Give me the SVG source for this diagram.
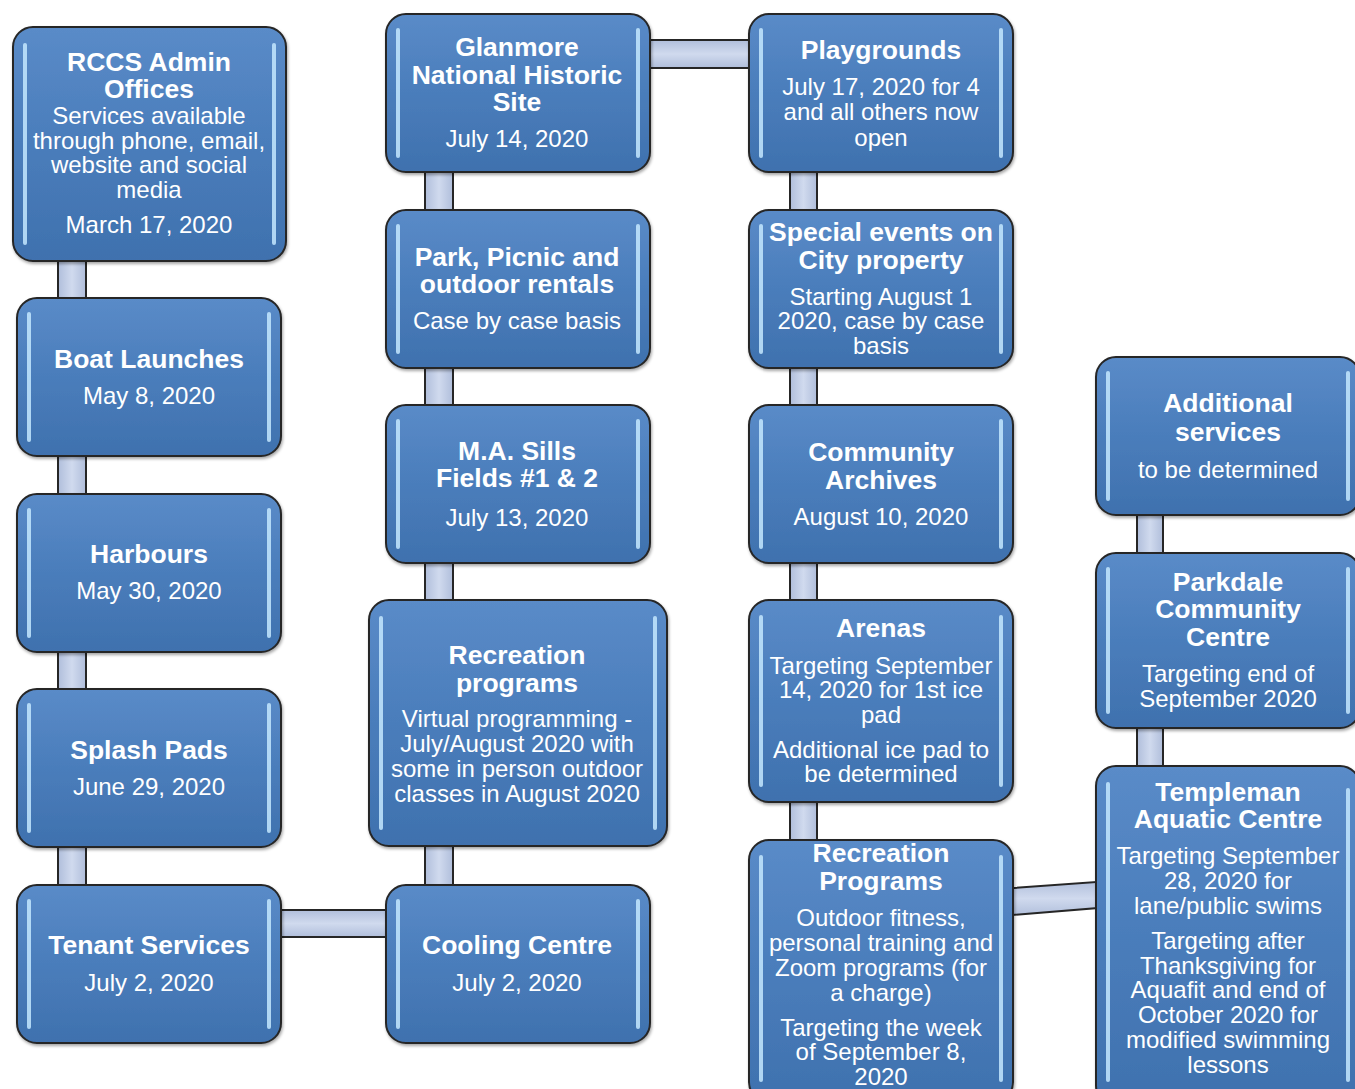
<svg xmlns="http://www.w3.org/2000/svg" width="1355" height="1089" viewBox="0 0 1355 1089">
<defs>
<linearGradient id="bg" x1="0" y1="0" x2="0" y2="1">
<stop offset="0" stop-color="#5a8bc8"/>
<stop offset="0.5" stop-color="#4a7dbb"/>
<stop offset="1" stop-color="#3f71ae"/>
</linearGradient>
<linearGradient id="cv" x1="0" y1="0" x2="1" y2="0">
<stop offset="0" stop-color="#b0bedb"/>
<stop offset="0.5" stop-color="#d0daee"/>
<stop offset="1" stop-color="#b0bedb"/>
</linearGradient>
<linearGradient id="ch" x1="0" y1="0" x2="0" y2="1">
<stop offset="0" stop-color="#b0bedb"/>
<stop offset="0.5" stop-color="#d0daee"/>
<stop offset="1" stop-color="#b0bedb"/>
</linearGradient>
<filter id="sh" x="-5%" y="-5%" width="110%" height="110%">
<feDropShadow dx="1" dy="2" stdDeviation="1.5" flood-color="#000" flood-opacity="0.35"/>
</filter>
</defs>
<style>
.box{fill:url(#bg);stroke:#262626;stroke-width:2;filter:url(#sh)}
.hl{stroke:#c4e8ff;stroke-width:4;stroke-linecap:round;opacity:0.85}
.cv{fill:url(#cv);stroke:#262626;stroke-width:2}
.ch{fill:url(#ch);stroke:#262626;stroke-width:2}
text{fill:#ffffff;text-anchor:middle;font-family:"Liberation Sans",Arial,sans-serif}
.t{font-size:26.5px;font-weight:bold}
.b{font-size:24px}
</style>
<rect width="1355" height="1089" fill="#ffffff"/>
<g id="connectors">
<rect class="cv" x="58" y="240" width="28" height="660"/>
<rect class="cv" x="425" y="160" width="28" height="740"/>
<rect class="cv" x="790" y="160" width="27" height="700"/>
<rect class="cv" x="1137" y="500" width="26" height="280"/>
<rect class="ch" x="640" y="40" width="120" height="28"/>
<rect class="ch" x="270" y="910" width="130" height="27"/>
<polygon class="ch" points="1000,889 1110,881 1110,907 1000,916"/>
</g>
<g id="rccs">
<rect class="box" x="13" y="27" width="273" height="234" rx="20"/>
<line class="hl" x1="25" y1="45" x2="25" y2="243"/><line class="hl" x1="274" y1="45" x2="274" y2="243"/>
<text class="t"><tspan x="149" y="71">RCCS Admin</tspan><tspan x="149" y="98">Offices</tspan></text>
<text class="b"><tspan x="149" y="124">Services available</tspan><tspan x="149" y="149">through phone, email,</tspan><tspan x="149" y="173">website and social</tspan><tspan x="149" y="198">media</tspan><tspan x="149" y="233">March 17, 2020</tspan></text>
</g>
<g id="boat">
<rect class="box" x="17" y="298" width="264" height="158" rx="20"/>
<line class="hl" x1="29" y1="314" x2="29" y2="440"/><line class="hl" x1="269" y1="314" x2="269" y2="440"/>
<text class="t" x="149" y="368">Boat Launches</text>
<text class="b" x="149" y="404">May 8, 2020</text>
</g>
<g id="harbours">
<rect class="box" x="17" y="494" width="264" height="158" rx="20"/>
<line class="hl" x1="29" y1="510" x2="29" y2="636"/><line class="hl" x1="269" y1="510" x2="269" y2="636"/>
<text class="t" x="149" y="563">Harbours</text>
<text class="b" x="149" y="599">May 30, 2020</text>
</g>
<g id="splash">
<rect class="box" x="17" y="689" width="264" height="158" rx="20"/>
<line class="hl" x1="29" y1="705" x2="29" y2="831"/><line class="hl" x1="269" y1="705" x2="269" y2="831"/>
<text class="t" x="149" y="759">Splash Pads</text>
<text class="b" x="149" y="795">June 29, 2020</text>
</g>
<g id="tenant">
<rect class="box" x="17" y="885" width="264" height="158" rx="20"/>
<line class="hl" x1="29" y1="901" x2="29" y2="1027"/><line class="hl" x1="269" y1="901" x2="269" y2="1027"/>
<text class="t" x="149" y="954">Tenant Services</text>
<text class="b" x="149" y="991">July 2, 2020</text>
</g>
<g id="glanmore">
<rect class="box" x="386" y="14" width="264" height="158" rx="20"/>
<line class="hl" x1="398" y1="30" x2="398" y2="156"/><line class="hl" x1="638" y1="30" x2="638" y2="156"/>
<text class="t"><tspan x="517" y="56">Glanmore</tspan><tspan x="517" y="84">National Historic</tspan><tspan x="517" y="111">Site</tspan></text>
<text class="b" x="517" y="147">July 14, 2020</text>
</g>
<g id="park">
<rect class="box" x="386" y="210" width="264" height="158" rx="20"/>
<line class="hl" x1="398" y1="226" x2="398" y2="352"/><line class="hl" x1="638" y1="226" x2="638" y2="352"/>
<text class="t"><tspan x="517" y="266">Park, Picnic and</tspan><tspan x="517" y="293">outdoor rentals</tspan></text>
<text class="b" x="517" y="329">Case by case basis</text>
</g>
<g id="sills">
<rect class="box" x="386" y="405" width="264" height="158" rx="20"/>
<line class="hl" x1="398" y1="421" x2="398" y2="547"/><line class="hl" x1="638" y1="421" x2="638" y2="547"/>
<text class="t"><tspan x="517" y="460">M.A. Sills</tspan><tspan x="517" y="487">Fields #1 &amp; 2</tspan></text>
<text class="b" x="517" y="526">July 13, 2020</text>
</g>
<g id="recreation-programs">
<rect class="box" x="369" y="600" width="298" height="246" rx="20"/>
<line class="hl" x1="381" y1="618" x2="381" y2="828"/><line class="hl" x1="655" y1="618" x2="655" y2="828"/>
<text class="t"><tspan x="517" y="664">Recreation</tspan><tspan x="517" y="692">programs</tspan></text>
<text class="b"><tspan x="517" y="727">Virtual programming -</tspan><tspan x="517" y="752">July/August 2020 with</tspan><tspan x="517" y="777">some in person outdoor</tspan><tspan x="517" y="802">classes in August 2020</tspan></text>
</g>
<g id="cooling">
<rect class="box" x="386" y="885" width="264" height="158" rx="20"/>
<line class="hl" x1="398" y1="901" x2="398" y2="1027"/><line class="hl" x1="638" y1="901" x2="638" y2="1027"/>
<text class="t" x="517" y="954">Cooling Centre</text>
<text class="b" x="517" y="991">July 2, 2020</text>
</g>
<g id="playgrounds">
<rect class="box" x="749" y="14" width="264" height="158" rx="20"/>
<line class="hl" x1="761" y1="30" x2="761" y2="156"/><line class="hl" x1="1001" y1="30" x2="1001" y2="156"/>
<text class="t" x="881" y="59">Playgrounds</text>
<text class="b"><tspan x="881" y="95">July 17, 2020 for 4</tspan><tspan x="881" y="120">and all others now</tspan><tspan x="881" y="146">open</tspan></text>
</g>
<g id="special">
<rect class="box" x="749" y="210" width="264" height="158" rx="20"/>
<line class="hl" x1="761" y1="226" x2="761" y2="352"/><line class="hl" x1="1001" y1="226" x2="1001" y2="352"/>
<text class="t"><tspan x="881" y="241">Special events on</tspan><tspan x="881" y="269">City property</tspan></text>
<text class="b"><tspan x="881" y="305">Starting August 1</tspan><tspan x="881" y="329">2020, case by case</tspan><tspan x="881" y="354">basis</tspan></text>
</g>
<g id="archives">
<rect class="box" x="749" y="405" width="264" height="158" rx="20"/>
<line class="hl" x1="761" y1="421" x2="761" y2="547"/><line class="hl" x1="1001" y1="421" x2="1001" y2="547"/>
<text class="t"><tspan x="881" y="461">Community</tspan><tspan x="881" y="489">Archives</tspan></text>
<text class="b" x="881" y="525">August 10, 2020</text>
</g>
<g id="arenas">
<rect class="box" x="749" y="600" width="264" height="202" rx="20"/>
<line class="hl" x1="761" y1="617" x2="761" y2="785"/><line class="hl" x1="1001" y1="617" x2="1001" y2="785"/>
<text class="t" x="881" y="637">Arenas</text>
<text class="b"><tspan x="881" y="674">Targeting September</tspan><tspan x="881" y="698">14, 2020 for 1st ice</tspan><tspan x="881" y="723">pad</tspan><tspan x="881" y="758">Additional ice pad to</tspan><tspan x="881" y="782">be determined</tspan></text>
</g>
<g id="recreation-programs-2">
<rect class="box" x="749" y="840" width="264" height="262" rx="20"/>
<line class="hl" x1="761" y1="857" x2="761" y2="1080"/><line class="hl" x1="1001" y1="857" x2="1001" y2="1080"/>
<text class="t"><tspan x="881" y="862">Recreation</tspan><tspan x="881" y="890">Programs</tspan></text>
<text class="b"><tspan x="881" y="926">Outdoor fitness,</tspan><tspan x="881" y="951">personal training and</tspan><tspan x="881" y="976">Zoom programs (for</tspan><tspan x="881" y="1001">a charge)</tspan><tspan x="881" y="1036">Targeting the week</tspan><tspan x="881" y="1060">of September 8,</tspan><tspan x="881" y="1085">2020</tspan></text>
</g>
<g id="additional">
<rect class="box" x="1096" y="357" width="264" height="158" rx="20"/>
<line class="hl" x1="1108" y1="373" x2="1108" y2="499"/><line class="hl" x1="1348" y1="373" x2="1348" y2="499"/>
<text class="t"><tspan x="1228" y="412">Additional</tspan><tspan x="1228" y="441">services</tspan></text>
<text class="b" x="1228" y="478">to be determined</text>
</g>
<g id="parkdale">
<rect class="box" x="1096" y="553" width="264" height="175" rx="20"/>
<line class="hl" x1="1108" y1="569" x2="1108" y2="712"/><line class="hl" x1="1348" y1="569" x2="1348" y2="712"/>
<text class="t"><tspan x="1228" y="591">Parkdale</tspan><tspan x="1228" y="618">Community</tspan><tspan x="1228" y="646">Centre</tspan></text>
<text class="b"><tspan x="1228" y="682">Targeting end of</tspan><tspan x="1228" y="707">September 2020</tspan></text>
</g>
<g id="templeman">
<rect class="box" x="1096" y="766" width="264" height="340" rx="20"/>
<line class="hl" x1="1108" y1="784" x2="1108" y2="1080"/><line class="hl" x1="1348" y1="790" x2="1348" y2="1080"/>
<text class="t"><tspan x="1228" y="801">Templeman</tspan><tspan x="1228" y="828">Aquatic Centre</tspan></text>
<text class="b"><tspan x="1228" y="864">Targeting September</tspan><tspan x="1228" y="889">28, 2020 for</tspan><tspan x="1228" y="914">lane/public swims</tspan><tspan x="1228" y="949">Targeting after</tspan><tspan x="1228" y="974">Thanksgiving for</tspan><tspan x="1228" y="998">Aquafit and end of</tspan><tspan x="1228" y="1023">October 2020 for</tspan><tspan x="1228" y="1048">modified swimming</tspan><tspan x="1228" y="1073">lessons</tspan></text>
</g>
</svg>
